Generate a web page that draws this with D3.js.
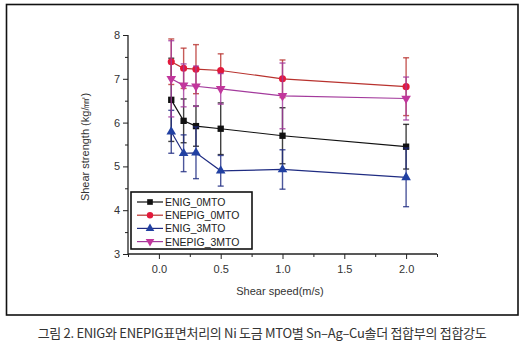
<!DOCTYPE html>
<html>
<head>
<meta charset="utf-8">
<script src="https://cdn.jsdelivr.net/npm/d3@7"></script>
<style>
  body { margin: 0; background: #fff; }
  svg { display: block; }
  .tick text { font-family: "Liberation Sans", Arial, sans-serif; font-size: 11px; fill: #333; }
</style>
</head>
<body>
<svg id="chart"></svg>
<script>
const width = 529, height = 347;

// shear speed (m/s) of each test
const speeds = [0.1, 0.2, 0.3, 0.5, 1.0, 2.0];

// mean shear strength and error per series
const enig0 = [6.52, 6.04, 5.92, 5.86, 5.70, 5.45];
const enig0Err = [0.95, 0.50, 0.46, 0.59, 0.64, 0.51];
const enepig0 = [7.39, 7.24, 7.22, 7.19, 7.00, 6.82];
const enepig0Err = [0.52, 0.46, 0.56, 0.38, 0.43, 0.66];
const enig3 = [5.79, 5.30, 5.31, 4.90, 4.93, 4.75];
const enig3Err = [0.49, 0.42, 0.59, 0.35, 0.45, 0.67];
const enepig3 = [7.00, 6.85, 6.83, 6.77, 6.61, 6.55];
const enepig3Err = [0.87, 0.49, 0.46, 0.35, 0.75, 0.49];

const seriesNames = ['ENIG_0MTO', 'ENEPIG_0MTO', 'ENIG_3MTO', 'ENEPIG_3MTO'];
const xTicks = [0.0, 0.5, 1.0, 1.5, 2.0];
const yTicks = [3, 4, 5, 6, 7, 8];

const series = [
  {name: seriesNames[0], values: enig0, err: enig0Err, line: '#111', fill: '#111', shape: d3.symbolSquare},
  {name: seriesNames[1], values: enepig0, err: enepig0Err, line: '#b8322e', fill: '#e3193c', shape: d3.symbolCircle},
  {name: seriesNames[2], values: enig3, err: enig3Err, line: '#1f2c82', fill: '#2140a2', shape: d3.symbolTriangle},
  {name: seriesNames[3], values: enepig3, err: enepig3Err, line: '#a33a9c', fill: '#c2369c', shape: d3.symbolTriangle, flip: true}
];

const svg = d3.select('#chart').attr('width', width).attr('height', height);

// outer frame
svg.append('rect')
  .attr('x', 6.5).attr('y', 4.5)
  .attr('width', 511.5).attr('height', 310.5)
  .attr('fill', 'none').attr('stroke', '#111').attr('stroke-width', 1.6);

const x = d3.scaleLinear().domain([-0.25, 2.25]).range([128, 437]);
const y = d3.scaleLinear().domain([3, 8]).range([254, 35]);

// minor ticks first, then major axis on top
svg.append('g')
  .attr('transform', 'translate(0,254)')
  .call(d3.axisBottom(x).tickValues(d3.range(-0.25, 2.26, 0.5)).tickSize(3).tickFormat(''))
  .call(g => g.select('.domain').remove())
  .call(g => g.selectAll('line').attr('stroke', '#222'));
svg.append('g')
  .attr('transform', 'translate(0,254)')
  .call(d3.axisBottom(x).tickValues(xTicks).tickSize(5).tickPadding(6).tickFormat(d3.format('.1f')))
  .call(g => g.select('.domain').attr('stroke', '#222').attr('stroke-width', 1.3).attr('d', 'M128,0H437'))
  .call(g => g.selectAll('line').attr('stroke', '#222'));

svg.append('g')
  .attr('transform', 'translate(128,0)')
  .call(d3.axisLeft(y).tickValues(d3.range(3.5, 8, 1)).tickSize(3).tickFormat(''))
  .call(g => g.select('.domain').remove())
  .call(g => g.selectAll('line').attr('stroke', '#222'));
svg.append('g')
  .attr('transform', 'translate(128,0)')
  .call(d3.axisLeft(y).tickValues(yTicks).tickSize(5).tickPadding(3).tickFormat(d3.format('d')))
  .call(g => g.select('.domain').attr('stroke', '#222').attr('stroke-width', 1.3).attr('d', 'M0,35V254'))
  .call(g => g.selectAll('line').attr('stroke', '#222'));

// axis titles
svg.append('text')
  .attr('transform', 'translate(89,147) rotate(-90)')
  .attr('text-anchor', 'middle')
  .attr('font-family', '"Liberation Sans", Arial, sans-serif')
  .attr('font-size', 11).attr('fill', '#333')
  .text('Shear strength (kg/㎟)');

svg.append('text')
  .attr('x', 280).attr('y', 295)
  .attr('text-anchor', 'middle')
  .attr('font-family', '"Liberation Sans", Arial, sans-serif')
  .attr('font-size', 11).attr('fill', '#333')
  .text('Shear speed(m/s)');

const plot = svg.append('g');
const line = d3.line().x((d, i) => x(speeds[i])).y(d => y(d));

series.forEach(s => {
  const g = plot.append('g');

  // error bars with caps
  const eb = g.selectAll('g.eb').data(s.values).join('g').attr('class', 'eb')
    .attr('stroke', s.line).attr('stroke-opacity', 0.8).attr('stroke-width', 1.4);
  eb.append('line')
    .attr('x1', (d, i) => x(speeds[i])).attr('x2', (d, i) => x(speeds[i]))
    .attr('y1', (d, i) => y(d + s.err[i])).attr('y2', (d, i) => y(d - s.err[i]));
  eb.append('line')
    .attr('x1', (d, i) => x(speeds[i]) - 3).attr('x2', (d, i) => x(speeds[i]) + 3)
    .attr('y1', (d, i) => y(d + s.err[i])).attr('y2', (d, i) => y(d + s.err[i]));
  eb.append('line')
    .attr('x1', (d, i) => x(speeds[i]) - 3).attr('x2', (d, i) => x(speeds[i]) + 3)
    .attr('y1', (d, i) => y(d - s.err[i])).attr('y2', (d, i) => y(d - s.err[i]));

  g.append('path').datum(s.values)
    .attr('d', line)
    .attr('fill', 'none').attr('stroke', s.line).attr('stroke-width', 1.2);

  g.selectAll('path.pt').data(s.values).join('path').attr('class', 'pt')
    .attr('d', d3.symbol().type(s.shape).size(40))
    .attr('transform', (d, i) => `translate(${x(speeds[i])},${y(d)})${s.flip ? ' rotate(180)' : ''}`)
    .attr('fill', s.fill);
});

// legend
const legend = svg.append('g');
legend.append('rect')
  .attr('x', 131).attr('y', 192)
  .attr('width', 121).attr('height', 57)
  .attr('fill', '#fff').attr('stroke', '#111').attr('stroke-width', 1.6);

series.forEach((s, i) => {
  const ly = 202 + i * 13.2;
  legend.append('line')
    .attr('x1', 137).attr('x2', 163).attr('y1', ly).attr('y2', ly)
    .attr('stroke', s.line).attr('stroke-width', 1.2);
  legend.append('path')
    .attr('d', d3.symbol().type(s.shape).size(32))
    .attr('transform', `translate(150,${ly})${s.flip ? ' rotate(180)' : ''}`)
    .attr('fill', s.fill);
  legend.append('text')
    .attr('x', 165).attr('y', ly + 4)
    .attr('font-family', '"Liberation Sans", Arial, sans-serif')
    .attr('font-size', 10.5).attr('fill', '#222')
    .text(s.name);
});

// figure caption
svg.append('text')
  .attr('x', 262).attr('y', 338)
  .attr('text-anchor', 'middle')
  .attr('font-family', '"Noto Sans CJK KR", sans-serif')
  .attr('font-size', 13).attr('fill', '#333')
  .attr('letter-spacing', -0.3)
  .text('그림 2. ENIG와 ENEPIG표면처리의 Ni 도금 MTO별 Sn–Ag–Cu솔더 접합부의 접합강도');
</script>
</body>
</html>
